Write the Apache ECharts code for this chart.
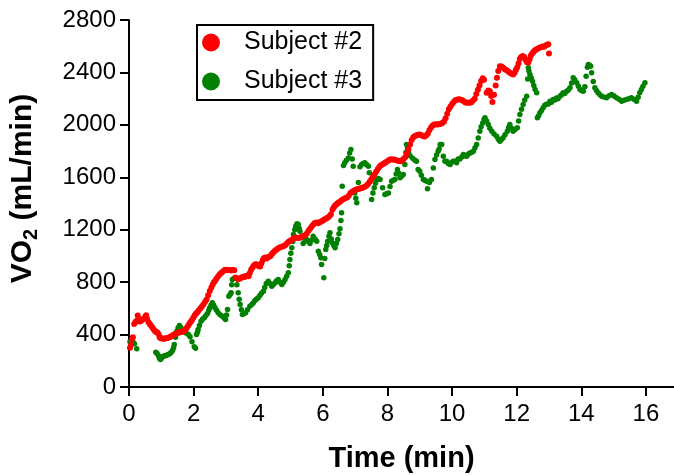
<!DOCTYPE html>
<html>
<head>
<meta charset="utf-8">
<script src="https://cdn.jsdelivr.net/npm/echarts@6/dist/echarts.min.js"></script>
<style>
  html, body { margin: 0; padding: 0; background: #fff; }
  #chart { width: 674px; height: 476px; }
</style>
</head>
<body>
<div id="chart"></div>
<script>
// [time (min), VO2 (mL/min)]
const subject2 = [
  [0.03,300],[0.06,320],[0.09,365],[0.12,380],[0.16,480],[0.2,495],[0.24,505],[0.27,545],[0.3,520],[0.34,500],
  [0.38,505],[0.42,515],[0.46,520],[0.5,535],[0.53,548],[0.56,520],[0.6,495],[0.64,480],[0.68,470],[0.72,455],
  [0.76,440],[0.8,428],[0.84,420],[0.88,415],[0.92,400],[0.95,378],[0.99,372],[1.03,370],[1.07,368],[1.11,370],
  [1.15,372],[1.19,374],[1.23,378],[1.27,382],[1.31,388],[1.35,393],[1.39,400],[1.43,405],[1.47,410],[1.51,413],
  [1.55,416],[1.59,418],[1.63,422],[1.67,426],[1.71,430],[1.75,440],[1.79,452],[1.83,468],[1.87,485],[1.91,498],
  [1.95,512],[1.99,528],[2.03,545],[2.07,558],[2.11,568],[2.15,582],[2.2,597],[2.25,612],[2.3,630],[2.35,648],
  [2.4,668],[2.45,700],[2.5,732],[2.55,760],[2.59,782],[2.63,800],[2.67,810],[2.71,828],[2.76,845],[2.81,860],
  [2.86,872],[2.91,882],[2.96,892],[3.01,895],[3.06,890],[3.11,892],[3.16,888],[3.21,893],[3.26,890],[3.3,835],
  [3.34,830],[3.38,822],[3.42,826],[3.46,832],[3.5,838],[3.54,842],[3.58,840],[3.62,846],[3.66,850],[3.7,845],
  [3.74,870],[3.78,895],[3.82,910],[3.86,925],[3.9,935],[3.94,936],[3.98,930],[4.02,922],[4.06,920],[4.1,945],
  [4.14,968],[4.18,985],[4.22,988],[4.26,980],[4.3,990],[4.34,994],[4.38,1000],[4.42,1015],[4.46,1025],[4.5,1035],
  [4.55,1045],[4.6,1055],[4.65,1062],[4.7,1068],[4.75,1072],[4.8,1076],[4.85,1085],[4.9,1098],[4.95,1110],[5.0,1115],
  [5.05,1125],[5.1,1135],[5.15,1140],[5.2,1138],[5.25,1136],[5.3,1140],[5.35,1148],[5.4,1152],[5.45,1158],[5.5,1170],
  [5.55,1190],[5.6,1205],[5.65,1222],[5.7,1238],[5.75,1252],[5.8,1255],[5.85,1250],[5.9,1256],[5.95,1262],[6.0,1270],
  [6.05,1278],[6.1,1285],[6.15,1292],[6.2,1302],[6.25,1318],[6.3,1355],[6.34,1372],[6.38,1385],[6.42,1392],[6.46,1402],
  [6.5,1410],[6.55,1418],[6.6,1428],[6.65,1435],[6.7,1442],[6.75,1446],[6.8,1460],[6.85,1478],[6.9,1488],[6.95,1495],
  [7.0,1503],[7.05,1508],[7.1,1510],[7.15,1514],[7.2,1518],[7.25,1522],[7.3,1528],[7.35,1535],[7.4,1548],[7.45,1565],
  [7.5,1585],[7.55,1605],[7.6,1622],[7.65,1642],[7.7,1662],[7.75,1680],[7.8,1692],[7.85,1700],[7.9,1708],[7.95,1715],
  [8.0,1722],[8.05,1732],[8.1,1738],[8.15,1736],[8.2,1735],[8.25,1732],[8.3,1728],[8.35,1725],[8.4,1722],[8.45,1730],
  [8.5,1740],[8.55,1752],[8.6,1780],[8.65,1812],[8.7,1850],[8.75,1885],[8.8,1905],[8.85,1915],[8.9,1920],[8.95,1925],
  [9.0,1926],[9.05,1920],[9.1,1915],[9.15,1912],[9.2,1918],[9.25,1935],[9.3,1960],[9.35,1980],[9.4,1995],[9.45,2002],
  [9.5,2005],[9.55,2002],[9.6,2004],[9.65,2008],[9.7,2015],[9.75,2025],[9.8,2050],[9.85,2085],[9.9,2120],[9.95,2140],
  [10.0,2160],[10.05,2175],[10.1,2188],[10.15,2192],[10.2,2195],[10.25,2194],[10.3,2190],[10.35,2182],[10.4,2172],[10.45,2168],
  [10.5,2170],[10.55,2168],[10.6,2172],[10.65,2185],[10.7,2200],[10.75,2235],[10.8,2268],[10.85,2300],[10.9,2335],[10.95,2355],
  [10.99,2345],[11.07,2245],[11.12,2262],[11.17,2257],[11.21,2220],[11.25,2175],[11.3,2230],[11.35,2300],[11.39,2360],[11.43,2410],
  [11.48,2448],[11.53,2445],[11.58,2435],[11.63,2425],[11.68,2418],[11.74,2408],[11.79,2398],[11.84,2390],[11.89,2385],[11.94,2400],
  [11.98,2420],[12.02,2440],[12.06,2470],[12.1,2505],[12.14,2518],[12.19,2525],[12.24,2515],[12.28,2495],[12.32,2478],[12.36,2475],
  [12.4,2500],[12.44,2530],[12.48,2545],[12.52,2555],[12.56,2568],[12.6,2575],[12.65,2580],[12.7,2588],[12.75,2592],[12.8,2598],
  [12.85,2595],[12.9,2605],[12.94,2612],[12.98,2615],[13.0,2545]
];

const subject3 = [
  [0.03,345],[0.06,335],[0.09,365],[0.13,342],[0.17,330],[0.24,291],
  [0.83,266],[0.87,255],[0.91,240],[0.94,222],[0.97,210],[1.0,218],[1.03,230],[1.07,235],[1.11,238],[1.15,240],
  [1.19,246],[1.23,250],[1.27,256],[1.31,265],[1.35,280],[1.38,300],[1.4,324],[1.44,380],[1.48,426],[1.52,450],
  [1.56,469],[1.6,455],[1.63,439],[1.68,428],[1.73,418],[1.78,410],[1.84,400],[1.89,383],[1.95,345],[2.02,307],
  [2.06,296],[2.09,400],[2.12,420],[2.14,439],[2.18,470],[2.23,502],[2.28,518],[2.33,528],[2.38,545],[2.43,561],
  [2.47,585],[2.5,604],[2.54,625],[2.58,642],[2.62,625],[2.66,604],[2.71,585],[2.76,566],[2.82,552],[2.89,540],
  [2.95,525],[2.99,515],[3.02,550],[3.05,591],[3.09,693],[3.13,705],[3.16,719],[3.18,780],[3.2,820],[3.25,830],
  [3.3,833],[3.34,780],[3.38,719],[3.41,670],[3.44,629],[3.48,590],[3.51,553],[3.56,560],[3.61,566],[3.67,590],
  [3.74,616],[3.8,630],[3.85,642],[3.9,660],[3.95,672],[4.0,680],[4.05,698],[4.1,715],[4.16,731],[4.2,760],
  [4.25,790],[4.31,807],[4.36,790],[4.42,769],[4.47,782],[4.52,795],[4.57,810],[4.62,820],[4.67,800],[4.73,782],
  [4.78,800],[4.83,820],[4.88,845],[4.93,871],[4.96,925],[4.98,973],[5.01,1020],[5.04,1062],[5.07,1110],[5.09,1163],
  [5.13,1200],[5.16,1227],[5.2,1245],[5.24,1240],[5.27,1210],[5.29,1189],[5.34,1140],[5.39,1095],[5.45,1115],[5.5,1125],
  [5.55,1110],[5.6,1095],[5.65,1120],[5.7,1150],[5.76,1130],[5.81,1112],[5.86,1036],[5.9,1010],[5.94,986],[5.96,935],
  [6.03,833],[6.06,980],[6.09,1049],[6.12,1080],[6.15,1112],[6.19,1150],[6.22,1176],[6.26,1130],[6.29,1100],[6.34,1080],
  [6.38,1062],[6.42,1095],[6.46,1125],[6.5,1170],[6.53,1207],[6.56,1270],[6.58,1329],[6.6,1532],[6.64,1690],[6.68,1710],
  [6.73,1730],[6.79,1748],[6.83,1785],[6.87,1812],[6.91,1740],[6.94,1685],[6.99,1481],[7.02,1440],[7.05,1405],[7.1,1560],
  [7.15,1680],[7.2,1697],[7.25,1705],[7.3,1710],[7.36,1695],[7.41,1685],[7.44,1634],[7.51,1430],[7.55,1480],[7.59,1520],
  [7.63,1555],[7.67,1583],[7.72,1590],[7.77,1583],[7.85,1520],[7.92,1469],[7.97,1475],[8.03,1481],[8.08,1530],[8.13,1570],
  [8.18,1578],[8.23,1583],[8.27,1625],[8.31,1660],[8.35,1630],[8.39,1596],[8.44,1610],[8.49,1621],[8.54,1697],[8.57,1790],
  [8.59,1850],[8.62,1820],[8.65,1787],[8.7,1765],[8.78,1745],[8.85,1730],[8.9,1723],[8.95,1660],[9.0,1647],[9.05,1615],
  [9.11,1583],[9.16,1578],[9.21,1570],[9.24,1512],[9.3,1560],[9.36,1583],[9.42,1670],[9.47,1736],[9.52,1770],[9.57,1799],
  [9.6,1815],[9.63,1850],[9.68,1850],[9.73,1760],[9.78,1723],[9.83,1723],[9.88,1705],[9.94,1697],[9.99,1715],[10.04,1723],
  [10.09,1723],[10.14,1710],[10.19,1740],[10.24,1740],[10.3,1755],[10.35,1774],[10.4,1765],[10.45,1761],[10.5,1775],[10.55,1785],
  [10.6,1790],[10.66,1799],[10.71,1825],[10.76,1850],[10.81,1900],[10.86,1952],[10.9,1985],[10.95,2015],[10.99,2040],[11.02,2054],
  [11.07,2030],[11.12,2003],[11.17,1975],[11.23,1952],[11.3,1930],[11.38,1914],[11.43,1890],[11.48,1875],[11.53,1888],[11.58,1901],
  [11.64,1925],[11.71,1952],[11.75,1980],[11.79,2003],[11.84,1975],[11.89,1952],[11.95,1965],[12.02,1977],[12.06,2030],[12.1,2079],
  [12.15,2120],[12.2,2155],[12.25,2190],[12.31,2219],[12.34,2350],[12.36,2435],[12.38,2410],[12.41,2384],[12.45,2360],[12.49,2333],
  [12.53,2300],[12.57,2270],[12.62,2245],[12.64,2054],[12.68,2070],[12.72,2092],[12.77,2110],[12.82,2130],[12.87,2150],[12.92,2158],
  [12.98,2160],[13.03,2180],[13.08,2172],[13.13,2193],[13.18,2190],[13.23,2205],[13.28,2200],[13.34,2219],[13.39,2230],[13.44,2245],
  [13.49,2240],[13.55,2257],[13.6,2265],[13.65,2283],[13.7,2320],[13.75,2359],[13.8,2345],[13.86,2321],[13.91,2295],[13.96,2270],
  [14.01,2262],[14.06,2257],[14.11,2290],[14.15,2370],[14.19,2440],[14.22,2460],[14.26,2452],[14.29,2448],[14.32,2397],[14.37,2330],
  [14.42,2283],[14.47,2262],[14.52,2245],[14.57,2232],[14.63,2219],[14.7,2212],[14.78,2206],[14.86,2222],[14.94,2231],[15.01,2220],
  [15.09,2206],[15.17,2195],[15.25,2180],[15.32,2188],[15.4,2193],[15.47,2200],[15.55,2206],[15.63,2195],[15.71,2180],[15.76,2210],
  [15.81,2245],[15.86,2270],[15.91,2295],[15.97,2321]
];

const seriesNames = ['Subject #2', 'Subject #3'];
const seriesColors = ['#ff0000', '#008000'];

const chart = echarts.init(document.getElementById('chart'));
const font = 'Liberation Sans, Arial, sans-serif';

const axisCommon = {
  axisLine: { show: true, lineStyle: { color: '#000', width: 2 } },
  axisTick: { show: true, inside: false, length: 9, lineStyle: { color: '#000', width: 2 } },
  splitLine: { show: false },
};

chart.setOption({
  animation: false,
  backgroundColor: '#fff',
  grid: { left: 129, right: 0, top: 20, bottom: 89, outerBoundsMode: 'none' },
  legend: {
    orient: 'vertical',
    left: 197,
    top: 25,
    padding: [5, 11, 6, 5],
    itemWidth: 18,
    itemHeight: 18,
    itemGap: 14,
    icon: 'circle',
    borderColor: '#000',
    borderWidth: 2,
    textStyle: { fontFamily: font, fontSize: 25, color: '#000', lineHeight: 24, padding: [0, 0, 0, 19] },
    data: seriesNames
  },
  xAxis: Object.assign({
    type: 'value',
    min: 0,
    max: 16.87,
    interval: 2,
    name: 'Time (min)',
    nameLocation: 'middle',
    nameGap: 57,
    nameTextStyle: { fontFamily: font, fontSize: 29, fontWeight: 'bold', color: '#000' },
    axisLabel: {
      fontFamily: font, fontSize: 24, color: '#000', margin: 15,
      showMaxLabel: false,
      formatter: v => (Math.abs(v % 2) < 1e-6 ? String(v) : '')
    }
  }, axisCommon),
  yAxis: Object.assign({
    type: 'value',
    min: 0,
    max: 2800,
    interval: 400,
    name: '{a|VO}{b|2}{a| (mL/min)}',
    nameLocation: 'middle',
    nameRotate: 90,
    nameGap: 88,
    nameTextStyle: {
      padding: [0, 0, 0, 30],
      rich: {
        a: { fontFamily: font, fontSize: 30, fontWeight: 'bold', color: '#000', lineHeight: 36 },
        b: { fontFamily: font, fontSize: 20, fontWeight: 'bold', color: '#000', lineHeight: 20, verticalAlign: 'bottom' }
      }
    },
    axisLabel: { fontFamily: font, fontSize: 24, color: '#000', margin: 13, formatter: v => String(v) }
  }, axisCommon),
  series: [
    {
      name: seriesNames[0], type: 'scatter', symbol: 'circle', symbolSize: 6,
      itemStyle: { color: seriesColors[0], opacity: 1 }, data: subject2, z: 3
    },
    {
      name: seriesNames[1], type: 'scatter', symbol: 'circle', symbolSize: 5.5,
      itemStyle: { color: seriesColors[1], opacity: 1 }, data: subject3, z: 2
    }
  ]
});
</script>
</body>
</html>
